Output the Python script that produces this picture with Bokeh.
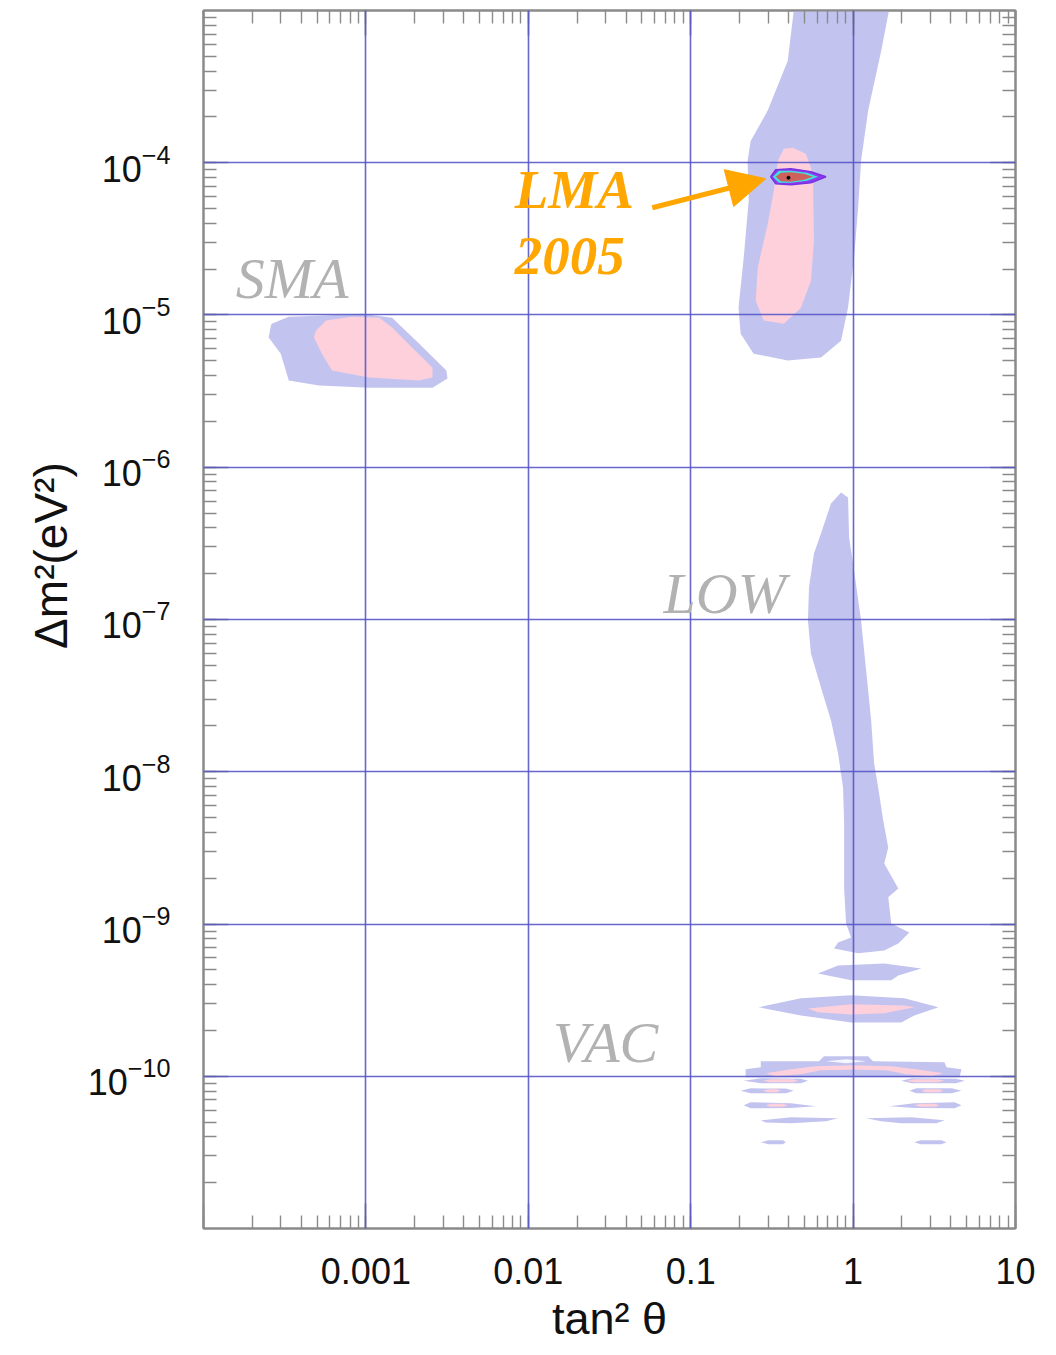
from bokeh.plotting import figure
from bokeh.models import (LogAxis, LogTicker, CustomJSTickFormatter, LogTickFormatter,
                          ColumnDataSource, LabelSet, Arrow, NormalHead, Range1d)
from bokeh.core.properties import value
from bokeh.embed import file_html
from bokeh.resources import INLINE

# ---------------- data ----------------
x_limits = [1e-4, 10]
y_limits = [1.001e-11, 9.99e-4]
x_tick_values = [1e-3, 1e-2, 1e-1, 1, 10]
x_tick_labels = ["0.001", "0.01", "0.1", "1", "10"]

# SMA region
sma_blue_tan2 = [2.63e-4, 3.35e-4, 5.14e-4, 9.48e-4, 1.45e-3, 2.13e-3, 3.13e-3, 3.18e-3, 2.57e-3, 1.05e-3, 5.14e-4, 3.35e-4, 2.99e-4, 2.52e-4, 2.60e-4]
sma_blue_dm2 = [8.77e-6, 9.75e-6, 9.90e-6, 1.02e-5, 9.60e-6, 6.48e-6, 4.31e-6, 3.82e-6, 3.33e-6, 3.33e-6, 3.44e-6, 3.71e-6, 5.57e-6, 7.10e-6, 8.51e-6]
sma_pink_tan2 = [4.92e-4, 5.68e-4, 8.22e-4, 1.21e-3, 1.45e-3, 1.93e-3, 2.57e-3, 2.57e-3, 2.13e-3, 1.05e-3, 6.18e-4, 5.36e-4, 4.79e-4]
sma_pink_dm2 = [7.89e-6, 9.18e-6, 9.75e-6, 9.60e-6, 8.26e-6, 6.10e-6, 4.51e-6, 3.88e-6, 3.71e-6, 3.88e-6, 4.31e-6, 5.57e-6, 7.10e-6]

# LMA region
lma_blue_tan2 = [0.44, 0.396, 0.298, 0.234, 0.224, 0.2275, 0.212, 0.197, 0.203, 0.244, 0.396, 0.634, 0.843, 0.931, 1.014, 1.074, 1.12, 1.238, 1.49, 1.72]
lma_blue_dm2 = [1.2e-3, 4.67e-4, 2.20e-4, 1.39e-4, 1.03e-4, 5.63e-5, 2.38e-5, 1.12e-5, 7.54e-6, 5.57e-6, 5.02e-6, 5.25e-6, 6.78e-6, 1.12e-5, 2.38e-5, 5.06e-5, 1.03e-4, 2.20e-4, 5.44e-4, 1.2e-3]
lma_pink_tan2 = [0.426, 0.512, 0.566, 0.574, 0.550, 0.477, 0.3745, 0.2817, 0.2514, 0.2587, 0.2982, 0.3248, 0.3438, 0.3745]
lma_pink_dm2 = [1.254e-4, 1.146e-4, 8.47e-5, 3.08e-5, 1.68e-5, 1.117e-5, 8.77e-6, 9.18e-6, 1.241e-5, 2.045e-5, 3.977e-5, 6.549e-5, 1.031e-4, 1.235e-4]

# LMA 2005 contours
lma05_outer_tan2 = [0.311, 0.334, 0.414, 0.55, 0.681, 0.55, 0.414, 0.334]
lma05_outer_dm2 = [8.09e-5, 8.99e-5, 9.13e-5, 8.73e-5, 8.09e-5, 7.39e-5, 7.17e-5, 7.28e-5]
lma05_mid_tan2 = [0.320, 0.349, 0.414, 0.52, 0.608, 0.52, 0.414, 0.349]
lma05_mid_dm2 = [8.09e-5, 8.86e-5, 8.86e-5, 8.60e-5, 8.09e-5, 7.62e-5, 7.39e-5, 7.39e-5]
lma05_inner_tan2 = [0.334, 0.359, 0.414, 0.498, 0.566, 0.498, 0.414, 0.359]
lma05_inner_dm2 = [8.09e-5, 8.60e-5, 8.66e-5, 8.47e-5, 8.09e-5, 7.73e-5, 7.50e-5, 7.56e-5]
best_fit_tan2 = [0.40]
best_fit_dm2 = [7.97e-5]

# LOW region
low_tan2 = [0.843, 0.731, 0.634, 0.574, 0.535, 0.527, 0.550, 0.634, 0.731, 0.808, 0.867, 0.880, 0.880, 0.880, 0.905, 0.972, 0.808, 0.763, 1.074, 1.555, 1.898, 2.219, 1.718, 1.646, 1.898, 1.555, 1.646, 1.533, 1.427, 1.348, 1.292, 1.2035, 1.12, 1.014, 0.945, 0.931]
low_dm2 = [6.82e-7, 5.77e-7, 3.67e-7, 2.71e-7, 1.62e-7, 9.85e-8, 5.98e-8, 3.58e-8, 2.17e-8, 1.32e-8, 7.89e-9, 4.79e-9, 2.91e-9, 1.74e-9, 1.01e-9, 8.17e-10, 7.57e-10, 6.92e-10, 6.42e-10, 6.71e-10, 7.46e-10, 8.81e-10, 1.01e-9, 1.50e-9, 1.71e-9, 2.50e-9, 3.18e-9, 4.79e-9, 7.89e-9, 1.13e-8, 2.17e-8, 4.62e-8, 9.85e-8, 2.10e-7, 3.45e-7, 6.32e-7]
band2_tan2 = [0.608, 0.808, 1.555, 2.633, 1.898, 1.718, 0.972]
band2_dm2 = [4.74e-10, 5.35e-10, 5.51e-10, 5.11e-10, 4.60e-10, 4.27e-10, 4.27e-10]
band3_blue_tan2 = [0.262, 0.477, 0.972, 2.067, 3.354, 2.383, 1.980, 0.972, 0.477]
band3_blue_dm2 = [2.84e-10, 3.25e-10, 3.40e-10, 3.25e-10, 2.84e-10, 2.51e-10, 2.26e-10, 2.26e-10, 2.51e-10]
band3_pink_tan2 = [0.527, 0.972, 2.067, 2.383, 1.555, 0.972, 0.608]
band3_pink_dm2 = [2.79e-10, 2.97e-10, 2.92e-10, 2.84e-10, 2.59e-10, 2.55e-10, 2.63e-10]

# VAC region
vac_blue_tan2 = [0.662, 1.238, 1.329, 3.652, 3.758, 4.652, 4.52, 0.218, 0.218, 0.270, 0.270, 0.616]
vac_blue_dm2 = [1.353e-10, 1.353e-10, 1.254e-10, 1.235e-10, 1.145e-10, 1.111e-10, 9.85e-11, 9.85e-11, 1.111e-10, 1.145e-10, 1.254e-10, 1.254e-10]
vac_pink_tan2 = [0.290, 0.414, 0.590, 0.972, 1.718, 2.452, 3.60, 3.035, 2.127, 1.600, 0.972, 0.634, 0.477, 0.334]
vac_pink_dm2 = [1.046e-10, 1.111e-10, 1.163e-10, 1.180e-10, 1.163e-10, 1.111e-10, 1.046e-10, 1.0e-10, 1.030e-10, 1.095e-10, 1.103e-10, 1.095e-10, 1.030e-10, 1.0e-10]
vac_hole_tan2 = [0.681, 0.905, 1.2035, 0.905]
vac_hole_dm2 = [1.254e-10, 1.293e-10, 1.254e-10, 1.216e-10]

lobe1l_tan2 = [0.212, 0.270, 0.477, 0.527, 0.477, 0.270]
lobe1l_dm2 = [9.34e-11, 9.70e-11, 9.62e-11, 9.34e-11, 8.99e-11, 8.99e-11]
lobe1r_tan2 = [1.98, 2.3, 4.3, 4.86, 4.3, 2.3]
lobe1r_dm2 = [9.34e-11, 9.70e-11, 9.62e-11, 9.34e-11, 8.99e-11, 8.99e-11]
lobe2l_tan2 = [0.203, 0.234, 0.385, 0.432, 0.385, 0.234]
lobe2l_dm2 = [8.03e-11, 8.34e-11, 8.30e-11, 8.03e-11, 7.75e-11, 7.73e-11]
lobe2r_tan2 = [2.22, 2.45, 4.04, 4.65, 4.04, 2.45]
lobe2r_dm2 = [8.03e-11, 8.34e-11, 8.34e-11, 8.03e-11, 7.73e-11, 7.73e-11]
lobe3l_tan2 = [0.212, 0.234, 0.414, 0.590, 0.414, 0.234]
lobe3l_dm2 = [6.45e-11, 6.75e-11, 6.65e-11, 6.35e-11, 6.20e-11, 6.16e-11]
lobe3r_tan2 = [1.67, 2.38, 4.21, 4.65, 4.21, 2.38]
lobe3r_dm2 = [6.35e-11, 6.65e-11, 6.75e-11, 6.45e-11, 6.16e-11, 6.20e-11]
lobe4l_tan2 = [0.270, 0.414, 0.808, 0.681, 0.414, 0.290]
lobe4l_dm2 = [5.14e-11, 5.38e-11, 5.30e-11, 5.06e-11, 4.91e-11, 4.98e-11]
lobe4r_tan2 = [1.20, 2.28, 3.65, 3.26, 1.98, 1.49]
lobe4r_dm2 = [5.30e-11, 5.38e-11, 5.14e-11, 4.91e-11, 4.91e-11, 5.06e-11]
lobe5l_tan2 = [0.270, 0.30, 0.37, 0.385, 0.37, 0.30]
lobe5l_dm2 = [3.69e-11, 3.80e-11, 3.80e-11, 3.69e-11, 3.58e-11, 3.58e-11]
lobe5r_tan2 = [2.38, 2.6, 3.5, 3.76, 3.5, 2.6]
lobe5r_dm2 = [3.69e-11, 3.80e-11, 3.80e-11, 3.69e-11, 3.58e-11, 3.58e-11]

pink1l_tan2 = [0.278, 0.31, 0.43, 0.457, 0.43, 0.31]
pink1l_dm2 = [9.34e-11, 9.55e-11, 9.55e-11, 9.34e-11, 9.13e-11, 9.13e-11]
pink1r_tan2 = [2.13, 2.4, 3.3, 3.65, 3.3, 2.4]
pink1r_dm2 = [9.34e-11, 9.55e-11, 9.55e-11, 9.34e-11, 9.13e-11, 9.13e-11]
pink2l_tan2 = [0.278, 0.30, 0.34, 0.359, 0.34, 0.30]
pink2l_dm2 = [8.03e-11, 8.22e-11, 8.22e-11, 8.03e-11, 7.85e-11, 7.85e-11]
pink2r_tan2 = [2.63, 2.8, 3.4, 3.6, 3.4, 2.8]
pink2r_dm2 = [8.03e-11, 8.22e-11, 8.22e-11, 8.03e-11, 7.85e-11, 7.85e-11]
pink3l_tan2 = [0.29, 0.31, 0.37, 0.396, 0.37, 0.31]
pink3l_dm2 = [6.45e-11, 6.60e-11, 6.60e-11, 6.45e-11, 6.30e-11, 6.30e-11]
pink3r_tan2 = [2.38, 2.6, 3.2, 3.4, 3.2, 2.6]
pink3r_dm2 = [6.45e-11, 6.60e-11, 6.60e-11, 6.45e-11, 6.30e-11, 6.30e-11]

# labels
region_label_text = ["SMA", "LOW", "VAC"]
region_label_tan2 = [1.58e-4, 0.068, 0.0142]
region_label_dm2 = [1.30e-5, 1.11e-7, 1.24e-10]
lma_label_text = ["LMA", "2005"]
lma_label_tan2 = [8.25e-3, 8.25e-3]
lma_label_dm2 = [5.06e-5, 1.87e-5]
arrow_tan2 = [0.058, 0.29]
arrow_dm2 = [5.06e-5, 7.85e-5]

# ---------------- styles ----------------
BLUE = "#c3c3f0"
PINK = "#fdd0dc"
GRID = "#5656c6"
FRAME = "#8a8a8a"
ORANGE = "#ffa600"
LABEL_GRAY = "#b2b2b2"

p = figure(width=1056, height=1355, x_axis_type="log", y_axis_type="log",
           x_range=Range1d(*x_limits), y_range=Range1d(*y_limits),
           output_backend="svg", toolbar_location=None,
           min_border_left=203, min_border_right=41, min_border_top=10, min_border_bottom=127)
p.background_fill_color = "white"
p.border_fill_color = "white"
p.outline_line_color = FRAME
p.outline_line_width = 2

blue_xs = [sma_blue_tan2, lma_blue_tan2, low_tan2, band2_tan2, band3_blue_tan2, vac_blue_tan2,
           lobe1l_tan2, lobe1r_tan2, lobe2l_tan2, lobe2r_tan2, lobe3l_tan2, lobe3r_tan2,
           lobe4l_tan2, lobe4r_tan2, lobe5l_tan2, lobe5r_tan2]
blue_ys = [sma_blue_dm2, lma_blue_dm2, low_dm2, band2_dm2, band3_blue_dm2, vac_blue_dm2,
           lobe1l_dm2, lobe1r_dm2, lobe2l_dm2, lobe2r_dm2, lobe3l_dm2, lobe3r_dm2,
           lobe4l_dm2, lobe4r_dm2, lobe5l_dm2, lobe5r_dm2]
pink_xs = [sma_pink_tan2, lma_pink_tan2, band3_pink_tan2, vac_pink_tan2,
           pink1l_tan2, pink1r_tan2, pink2l_tan2, pink2r_tan2, pink3l_tan2, pink3r_tan2]
pink_ys = [sma_pink_dm2, lma_pink_dm2, band3_pink_dm2, vac_pink_dm2,
           pink1l_dm2, pink1r_dm2, pink2l_dm2, pink2r_dm2, pink3l_dm2, pink3r_dm2]

p.patches(xs=blue_xs, ys=blue_ys, fill_color=BLUE, line_color=None)
p.patches(xs=pink_xs, ys=pink_ys, fill_color=PINK, line_color=None)
p.patch(x=vac_hole_tan2, y=vac_hole_dm2, fill_color="white", fill_alpha=0.85, line_color=None)

p.patch(x=lma05_outer_tan2, y=lma05_outer_dm2, fill_color="#8f3cf0", line_color="#7a30e0", line_width=1.5)
p.patch(x=lma05_mid_tan2, y=lma05_mid_dm2, fill_color="#3fe3dc", line_color=None)
p.patch(x=lma05_inner_tan2, y=lma05_inner_dm2, fill_color="#cf615c", line_color=None)
p.scatter(x=best_fit_tan2, y=best_fit_dm2, size=3, color="black")

# grid
for g in (p.xgrid, p.ygrid):
    g.level = "guide"
    g.grid_line_color = GRID
    g.grid_line_width = 1.6
    g.grid_line_alpha = 0.9
    g.minor_grid_line_color = None

tick_font = "Liberation Sans"

def style_axis(ax):
    ax.axis_line_color = FRAME
    ax.axis_line_width = 2
    ax.major_tick_line_color = FRAME
    ax.major_tick_line_width = 1.6
    ax.minor_tick_line_color = FRAME
    ax.minor_tick_line_width = 1.4
    ax.major_tick_in = 25
    ax.major_tick_out = 0
    ax.minor_tick_in = 13
    ax.minor_tick_out = 0
    ax.major_label_text_font = tick_font
    ax.major_label_text_font_size = "36px"
    ax.major_label_text_color = "#111111"

fmt_code = """
const lt = Math.log10(tick);
for (let i = 0; i < vals.length; i++) {
  if (Math.abs(Math.log10(vals[i]) - lt) < 1e-6) return labs[i];
}
return "";
"""

xax = p.below[0]
xax.ticker = LogTicker(num_minor_ticks=10)
xax.formatter = CustomJSTickFormatter(args=dict(vals=x_tick_values, labs=x_tick_labels), code=fmt_code)
style_axis(xax)
xax.major_label_standoff = 29
xax.axis_label = "tan² θ"
xax.axis_label_text_font = tick_font
xax.axis_label_text_font_size = "45px"
xax.axis_label_text_font_style = "normal"
xax.axis_label_text_color = "#111111"
xax.axis_label_standoff = 6

yax = p.left[0]
yax.ticker = LogTicker(num_minor_ticks=10)
yax.formatter = LogTickFormatter()
style_axis(yax)
yax.major_label_standoff = 33
yax.axis_label = "\u00a0" * 10 + "Δm²(eV²)"
yax.axis_label_text_font = tick_font
yax.axis_label_text_font_size = "46px"
yax.axis_label_text_font_style = "normal"
yax.axis_label_text_color = "#111111"
yax.axis_label_standoff = 8

empty = CustomJSTickFormatter(code="return '';")
top = LogAxis(ticker=LogTicker(num_minor_ticks=10), formatter=empty, major_label_standoff=0)
right = LogAxis(ticker=LogTicker(num_minor_ticks=10), formatter=empty, major_label_standoff=0)
style_axis(top)
style_axis(right)
p.add_layout(top, "above")
p.add_layout(right, "right")

# region labels
src_regions = ColumnDataSource(dict(x=region_label_tan2, y=region_label_dm2, t=region_label_text))
p.add_layout(LabelSet(x="x", y="y", text="t", source=src_regions,
                      text_font=value("Liberation Serif"), text_font_size=value("58px"),
                      text_font_style="italic", text_color=LABEL_GRAY,
                      text_align="left", text_baseline="alphabetic"))

src_lma = ColumnDataSource(dict(x=lma_label_tan2, y=lma_label_dm2, t=lma_label_text))
p.add_layout(LabelSet(x="x", y="y", text="t", source=src_lma,
                      text_font=value("Liberation Serif"), text_font_size=value("55px"),
                      text_font_style="bold italic", text_color=ORANGE,
                      text_align="left", text_baseline="alphabetic"))

p.add_layout(Arrow(end=NormalHead(size=38, fill_color=ORANGE, line_color=ORANGE),
                   x_start=arrow_tan2[0], y_start=arrow_dm2[0],
                   x_end=arrow_tan2[1], y_end=arrow_dm2[1],
                   line_color=ORANGE, line_width=5))

open("out.html", "w").write(file_html(p, INLINE))
